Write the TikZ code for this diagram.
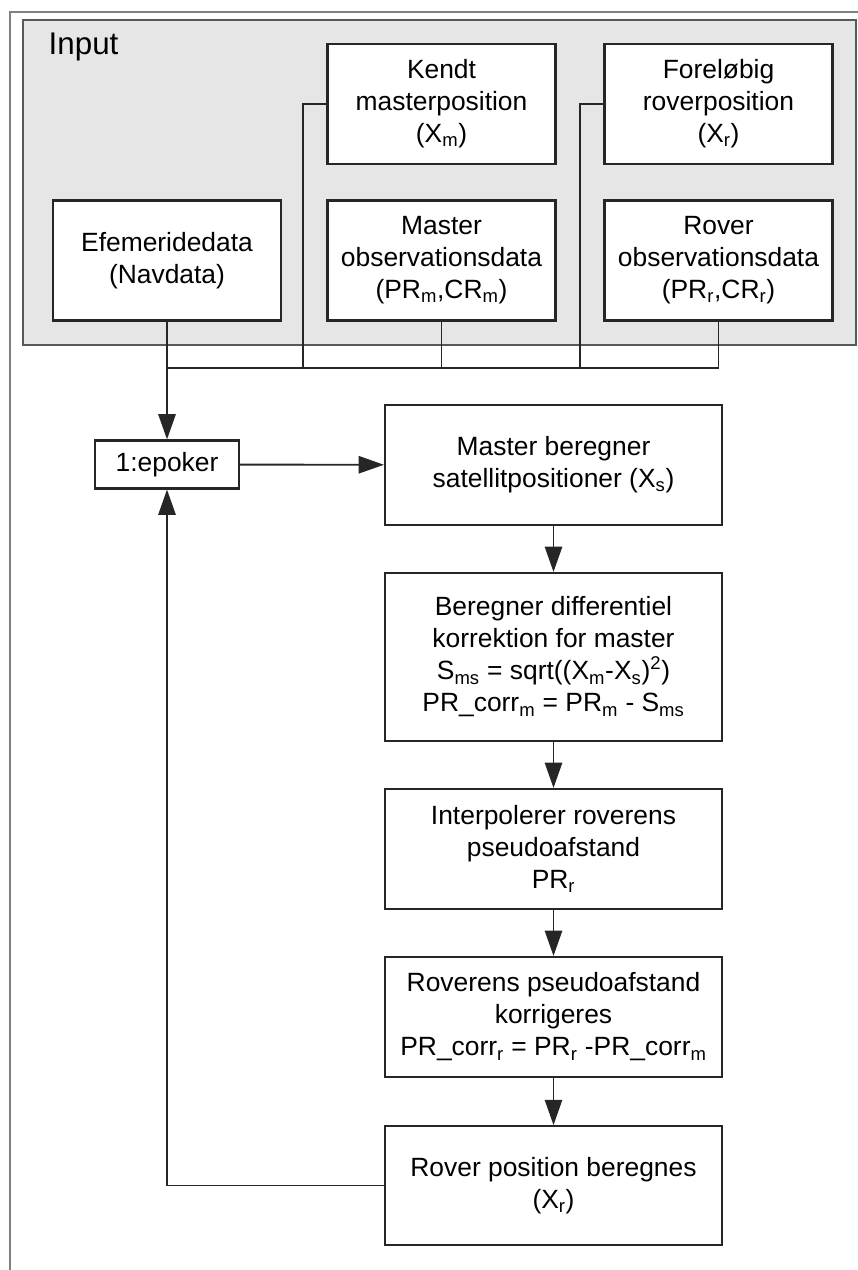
\documentclass[tikz,border=0pt]{standalone}
\usepackage{fontspec}
\setmainfont{Liberation Sans}
\usetikzlibrary{arrows.meta}
\definecolor{inputgray}{HTML}{E6E6E6}
\definecolor{framegray}{HTML}{808080}
\definecolor{linegray}{HTML}{262626}
\begin{document}
\begin{tikzpicture}[scale=1, font=\fontsize{19.8}{24}\selectfont, line join=miter, >={Triangle[length=19pt,width=13pt]}, x=0.75pt, y=-0.75pt,
  box/.style={draw=linegray, line width=1.6pt, fill=white, align=center, inner sep=0pt, minimum width=171pt},
  conn/.style={draw=linegray, line width=1.4pt}]
\def \busy{368};
\def \colx{553.5};
\useasboundingbox (0,0) rectangle (857,1270);
% outer frame and input area
\draw[framegray, line width=1.8pt] (10,1280) -- (10,12) -- (870,12);
\draw[fill=inputgray, draw=black!65, line width=1.5pt] (23,20) rectangle (856,345);
\node[anchor=base west, font=\fontsize{23.5}{28}\selectfont] (inp) at (44,55) {Input};
% input boxes
\node[box, minimum height=90pt] (eph) at (167,260.5) {Efemeridedata\\(Navdata)};
\node[box, minimum height=90pt] (kendt) at (441.5,104) {Kendt\\masterposition\\(X\textsubscript{m})};
\node[box, minimum height=90pt] (forel) at (718.5,104) {Foreløbig\\roverposition\\(X\textsubscript{r})};
\node[box, minimum height=90pt] (mobs) at (441.5,260.5) {Master\\observationsdata\\(PR\textsubscript{m},CR\textsubscript{m})};
\node[box, minimum height=90pt] (robs) at (718.5,260.5) {Rover\\observationsdata\\(PR\textsubscript{r},CR\textsubscript{r})};
% bus below the input area
\coordinate (bus) at (167,\busy);
\coordinate (kb) at (303,\busy);
\coordinate (fb) at (580,\busy);
\draw[conn] (eph.south) -- (bus) -- (robs.south |- bus) -- (robs.south);
\draw[conn] (mobs.south) -- (mobs.south |- bus);
\draw[conn] (kendt.west) -| (kb);
\draw[conn] (forel.west) -| (fb);
% processing chain
\node[box, minimum width=108pt, minimum height=36pt] (epok) at (167,464.5) {1:epoker};
\node[box, minimum width=252.75pt, minimum height=90pt] (mb) at (\colx,465) {Master beregner\\satellitpositioner (X\textsubscript{s})};
\node[box, minimum width=252.75pt, minimum height=126pt] (bd) at (\colx,657) {Beregner differentiel\\korrektion for master\\S\textsubscript{ms} = sqrt((X\textsubscript{m}-X\textsubscript{s})\textsuperscript{2})\\PR\_corr\textsubscript{m} = PR\textsubscript{m} - S\textsubscript{ms}};
\node[box, minimum width=252.75pt, minimum height=90pt] (ip) at (\colx,849) {Interpolerer roverens\\pseudoafstand\\PR\textsubscript{r}};
\node[box, minimum width=252.75pt, minimum height=90pt] (rk) at (\colx,1017) {Roverens pseudoafstand\\korrigeres\\PR\_corr\textsubscript{r} = PR\textsubscript{r} -PR\_corr\textsubscript{m}};
\node[box, minimum width=252.75pt, minimum height=89pt] (rp) at (\colx,1185.5) {Rover position beregnes\\(X\textsubscript{r})};
\draw[conn,->] (bus) -- (epok);
\draw[conn,->] (epok) -- (mb);
\foreach \a/\b in {mb/bd,bd/ip,ip/rk,rk/rp}{\draw[conn,->] (\a) -- (\b);}
\draw[conn,->] (rp.west) -| (epok.south);
\end{tikzpicture}
\end{document}
